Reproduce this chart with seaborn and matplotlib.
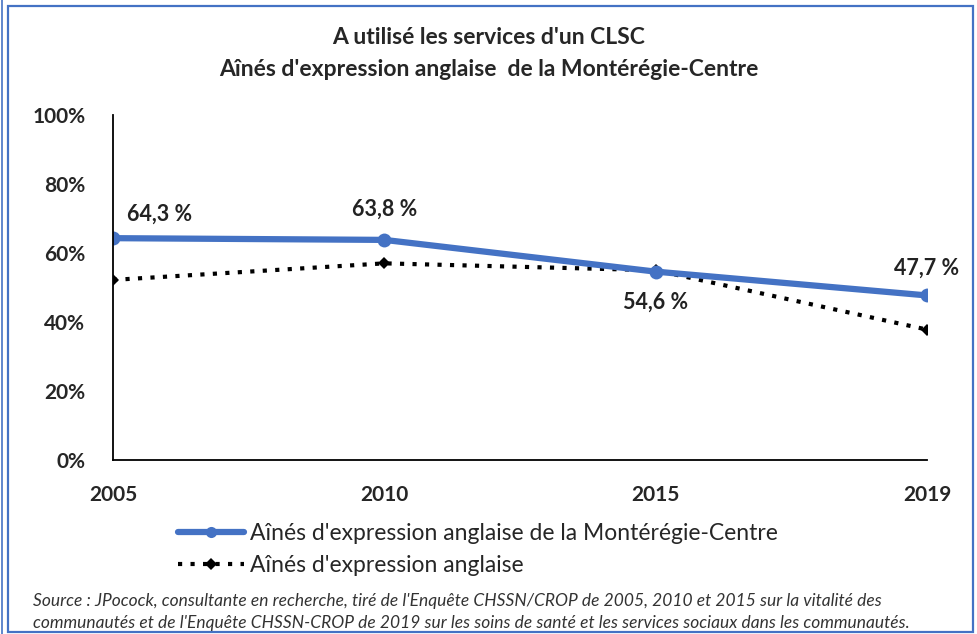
import numpy as np
import pandas as pd
import seaborn as sns
import matplotlib.pyplot as plt
from matplotlib.patches import Rectangle
from matplotlib.lines import Line2D

years = ['2005', '2010', '2015', '2019']
monteregie = [64.3, 63.8, 54.6, 47.7]
anglais = [52.2, 57.0, 55.0, 37.8]
labels = ['64,3 %', '63,8 %', '54,6 %', '47,7 %']
serie_1 = "Aînés d'expression anglaise de la Montérégie-Centre"
serie_2 = "Aînés d'expression anglaise"

df = pd.DataFrame({
    'Année': years * 2,
    'Valeur': monteregie + anglais,
    'Série': [serie_1] * 4 + [serie_2] * 4,
})

sns.set_style('white')
plt.rcParams['font.family'] = ['Lato', 'DejaVu Sans']

fig = plt.figure(figsize=(9.77, 6.34), dpi=100)
ax = fig.add_axes([113 / 977, 1 - 460 / 634, (927 - 113) / 977, (460 - 115) / 634])

blue = '#4472C4'
sns.lineplot(data=df[df['Série'] == serie_2], x='Année', y='Valeur', ax=ax,
             color='black', linestyle=(0, (1, 2.0)), linewidth=3,
             marker='D', markersize=6, markeredgewidth=0, legend=False)
sns.lineplot(data=df[df['Série'] == serie_1], x='Année', y='Valeur', ax=ax,
             color=blue, linewidth=4.5, marker='o', markersize=10,
             markeredgewidth=0, legend=False)

ax.set_xlim(0, 3)
ax.set_ylim(0, 100)
ax.set_yticks(range(0, 101, 20))
ax.set_yticklabels([f'{v}%' for v in range(0, 101, 20)], fontsize=15, fontweight='bold')
ax.set_xticks(range(4))
ax.set_xticklabels(years, fontsize=15, fontweight='bold')
ax.tick_params(axis='x', direction='out', length=7, width=1.2, color='black', pad=11)
ax.tick_params(axis='y', length=0, pad=20)
ax.set_xlabel('')
ax.set_ylabel('')
for s in ['top', 'right']:
    ax.spines[s].set_visible(False)
for s in ['left', 'bottom']:
    ax.spines[s].set_color('black')
    ax.spines[s].set_linewidth(1.3)

# étiquettes de données
offsets = [(0.05, 7, 'left'), (0.0, 9, 'center'), (0.0, -9, 'center'), (0.0, 8, 'center')]
for i, (lab, (dx, dy, ha)) in enumerate(zip(labels, offsets)):
    ax.text(i + dx, monteregie[i] + dy, lab, ha=ha, va='center',
            fontsize=15.5, fontweight='bold', color='#222222')

fig.text(0.5, 1 - 38 / 634, "A utilisé les services d'un CLSC", ha='center', va='center',
         fontsize=16.5, fontweight='bold')
fig.text(0.5, 1 - 70 / 634, "Aînés d'expression anglaise  de la Montérégie-Centre",
         ha='center', va='center', fontsize=16.5, fontweight='bold')

handles = [
    Line2D([], [], color=blue, linewidth=4.5, marker='o', markersize=8, markeredgewidth=0),
    Line2D([], [], color='black', linestyle=(0, (1, 2.0)), linewidth=3,
           marker='D', markersize=6, markeredgewidth=0),
]
fig.legend(handles, [serie_1, serie_2], loc='upper left',
           bbox_to_anchor=(178 / 977, 1 - 523 / 634), frameon=False,
           fontsize=16.5, handlelength=2.9, handletextpad=0.25, labelspacing=0.5,
           borderaxespad=0, borderpad=0)

fig.text(33 / 977, 1 - 601 / 634,
         "Source : JPocock, consultante en recherche, tiré de l'Enquête CHSSN/CROP de 2005, 2010 et 2015 sur la vitalité des",
         fontsize=12.5, style='italic', va='center', color='#333333')
fig.text(33 / 977, 1 - 623 / 634,
         "communautés et de l'Enquête CHSSN-CROP de 2019 sur les soins de santé et les services sociaux dans les communautés.",
         fontsize=12.5, style='italic', va='center', color='#333333')

# cadre bleu
fig.patches.append(Rectangle((8 / 977, 2 / 634), 965 / 977, 626 / 634, transform=fig.transFigure,
                             fill=False, edgecolor=blue, linewidth=1.6))
fig.lines.append(Line2D([2 / 977, 2 / 977], [0, 1], transform=fig.transFigure,
                        color=blue, linewidth=1.2))

fig.savefig('out.png', dpi=100)
